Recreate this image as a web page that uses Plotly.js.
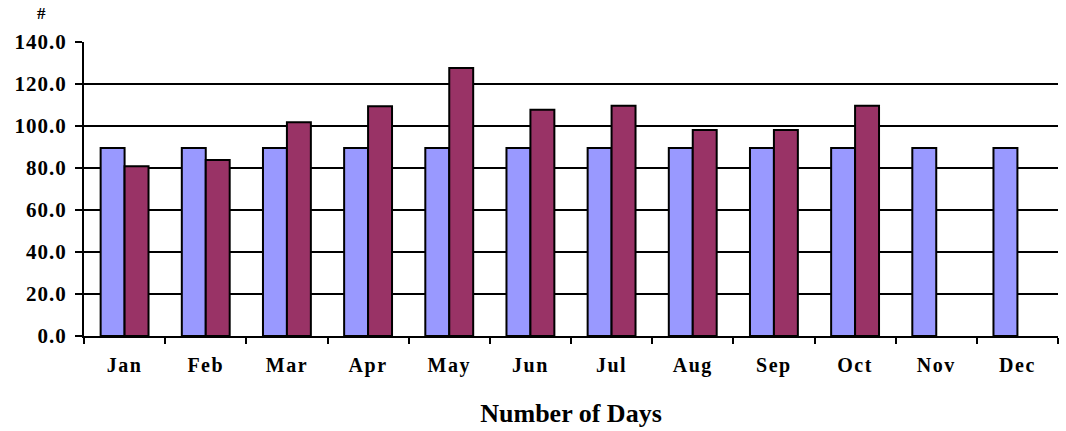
<!DOCTYPE html>
<html>
<head>
<meta charset="utf-8">
<script src="https://cdn.plot.ly/plotly-3.0.1.min.js"></script>
<style>html,body{margin:0;padding:0;background:#fff}#chart{width:1066px;height:431px}
.xtick text{letter-spacing:1.5px}
.ytick text{letter-spacing:1px}
</style>
</head>
<body>
<div id="chart"></div>
<script>
const months = ["Jan","Feb","Mar","Apr","May","Jun","Jul","Aug","Sep","Oct","Nov","Dec"];
const seriesA = [89.5,89.5,89.5,89.5,89.5,89.5,89.5,89.5,89.5,89.5,89.5,89.5];
const seriesB = [80.8,83.8,101.8,109.4,127.6,107.7,109.6,98.1,98.1,109.6,null,null];
const yTicks = [0,20,40,60,80,100,120,140];

const font = {family: "'Liberation Serif','Times New Roman',serif", color: "#000"};

const traces = [
  {type:"bar", name:"A", x:months, y:seriesA,
   marker:{color:"#9999FF", line:{color:"#000", width:2}}},
  {type:"bar", name:"B", x:months, y:seriesB,
   marker:{color:"#993366", line:{color:"#000", width:2}}}
];

const layout = {
  width:1066, height:431,
  margin:{l:84, r:8, t:42, b:95},
  paper_bgcolor:"#fff", plot_bgcolor:"#fff",
  showlegend:false,
  barmode:"group", bargap:0.41, bargroupgap:0,
  font: Object.assign({size:18, weight:"bold"}, font),
  xaxis:{
    type:"category",
    tickson:"boundaries", ticks:"outside", ticklen:6, tickwidth:2, tickcolor:"#000",
    showline:true, linecolor:"#000", linewidth:2,
    showgrid:false, zeroline:false,
    tickfont:Object.assign({size:20, weight:"bold"}, font),
    ticklabelstandoff:10,
    title:{text:"<b>Number of Days</b>", font:Object.assign({size:26}, font), standoff:28}
  },
  yaxis:{
    range:[0,140], tickvals:yTicks, ticktext:yTicks.map(v=>v.toFixed(1)),
    ticks:"outside", ticklen:7, tickwidth:2, tickcolor:"#000",
    showline:true, linecolor:"#000", linewidth:2,
    showgrid:true, gridcolor:"#000", gridwidth:1.5, zeroline:false,
    tickfont:Object.assign({size:21, weight:"bold"}, font),
    ticklabelstandoff:4
  },
  annotations:[{
    text:"<b>#</b>", xref:"paper", yref:"paper",
    x:-0.0435, y:1.0, xanchor:"center", yanchor:"bottom", yshift:17, showarrow:false,
    font:Object.assign({size:17}, font)
  }]
};

Plotly.newPlot("chart", traces, layout, {displayModeBar:false, staticPlot:true});
</script>
</body>
</html>
